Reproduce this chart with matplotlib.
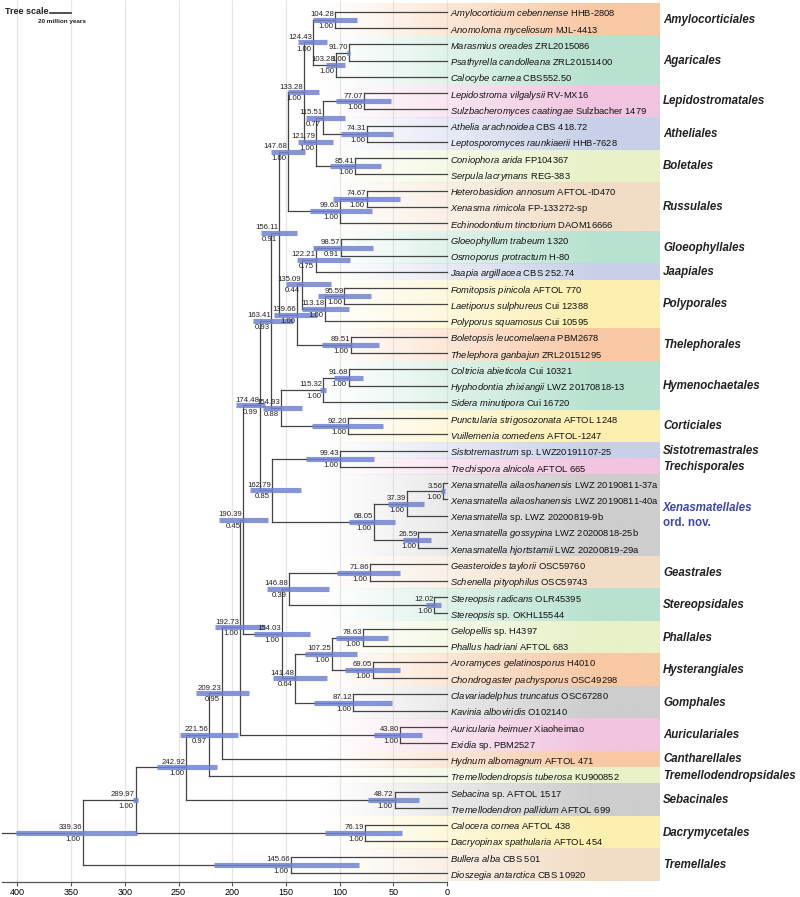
import numpy as np
import matplotlib
matplotlib.use("Agg")
import matplotlib.pyplot as plt
from matplotlib.colors import to_rgb

plt.rcParams.update({
    "font.family": "sans-serif",
    "font.sans-serif": ["Liberation Sans", "DejaVu Sans"],
    "mathtext.fontset": "custom",
    "mathtext.rm": "Liberation Sans",
    "mathtext.it": "Liberation Sans:italic",
    "mathtext.bf": "Liberation Sans:bold",
})

W, H, DPI = 800, 897, 100

# ---- tips (top to bottom) ----
tip_names = [
    "Amylocorticium cebennense", "Anomoloma myceliosum", "Marasmius oreades",
    "Psathyrella candolleana", "Calocybe carnea", "Lepidostroma vilgalysii",
    "Sulzbacheromyces caatingae", "Athelia arachnoidea", "Leptosporomyces raunkiaerii",
    "Coniophora arida", "Serpula lacrymans", "Heterobasidion annosum",
    "Xenasma rimicola", "Echinodontium tinctorium", "Gloeophyllum trabeum",
    "Osmoporus protractum", "Jaapia argillacea", "Fomitopsis pinicola",
    "Laetiporus sulphureus", "Polyporus squamosus", "Boletopsis leucomelaena",
    "Thelephora ganbajun", "Coltricia abieticola", "Hyphodontia zhixiangii",
    "Sidera minutipora", "Punctularia strigosozonata", "Vuillemenia comedens",
    "Sistotremastrum", "Trechispora alnicola", "Xenasmatella ailaoshanensis",
    "Xenasmatella ailaoshanensis", "Xenasmatella", "Xenasmatella gossypina",
    "Xenasmatella hjortstamii", "Geasteroides taylorii", "Schenella pityophilus",
    "Stereopsis radicans", "Stereopsis", "Gelopellis", "Phallus hadriani",
    "Aroramyces gelatinosporus", "Chondrogaster pachysporus", "Clavariadelphus truncatus",
    "Kavinia alboviridis", "Auricularia heimuer", "Exidia", "Hydnum albomagnum",
    "Tremellodendropsis tuberosa", "Sebacina", "Tremellodendron pallidum",
    "Calocera cornea", "Dacryopinax spathularia", "Bullera alba", "Dioszegia antarctica",
]
tip_strains = [
    "HHB-2808", "MJL-4413", "ZRL2015086", "ZRL20151400", "CBS552.50", "RV-MX16",
    "Sulzbacher 1479", "CBS 418.72", "HHB-7628", "FP104367", "REG-383", "AFTOL-ID470",
    "FP-133272-sp", "DAOM16666", "1320", "H-80", "CBS 252.74", "AFTOL 770",
    "Cui 12388", "Cui 10595", "PBM2678", "ZRL20151295", "Cui 10321", "LWZ 20170818-13",
    "Cui 16720", "AFTOL 1248", "AFTOL-1247", "sp. LWZ20191107-25", "AFTOL 665",
    "LWZ 20190811-37a", "LWZ 20190811-40a", "sp. LWZ 20200819-9b", "LWZ 20200818-25b",
    "LWZ 20200819-29a", "OSC59760", "OSC59743", "OLR45395", "sp. OKHL15544",
    "sp. H4397", "AFTOL 683", "H4010", "OSC49298", "OSC67280", "O102140",
    "Xiaoheimao", "sp. PBM2527", "AFTOL 471", "KU900852", "sp. AFTOL 1517",
    "AFTOL 699", "AFTOL 438", "AFTOL 454", "CBS 501", "CBS 10920",
]

# ---- internal nodes: age (Ma), posterior support, 95% HPD, children ----
# children: int = tip index, str = age label of another node
node_ages = [339.36, 289.97, 242.92, 221.56, 209.23, 192.73, 190.39, 174.48, 163.41,
             156.11, 147.68, 133.28, 124.43, 104.28, 103.28, 91.70, 121.79, 115.51,
             77.07, 74.31, 85.41, 99.63, 74.67, 139.66, 135.09, 122.21, 98.57, 113.18,
             95.59, 89.51, 154.93, 115.32, 91.68, 92.20, 162.79, 99.43, 68.05, 37.39,
             3.56, 26.59, 154.03, 146.88, 71.86, 12.02, 141.48, 107.25, 78.63, 69.05,
             87.12, 43.80, 48.72, 76.19, 145.66]
node_support = [1.00, 1.00, 1.00, 0.97, 0.95, 1.00, 0.45, 0.99, 0.93,
                0.91, 1.00, 1.00, 1.00, 1.00, 1.00, 1.00, 1.00, 0.77,
                1.00, 1.00, 1.00, 1.00, 1.00, 1.00, 0.44, 0.75, 0.91, 1.00,
                1.00, 1.00, 0.88, 1.00, 1.00, 1.00, 0.85, 1.00, 1.00, 1.00,
                1.00, 1.00, 1.00, 0.39, 1.00, 1.00, 0.64, 1.00, 1.00, 1.00,
                1.00, 1.00, 1.00, 1.00, 1.00]
hpd_old = [401, 292, 270, 249, 234, 216, 212, 196, 181,
           173, 164, 148, 139, 125, 113, 93, 139, 131,
           103, 99, 109, 128, 106, 161, 150, 140, 125, 135,
           120, 116, 171, 118, 105, 126, 183, 131, 91, 55,
           6, 41, 180, 168, 102, 20, 162, 132, 103, 95,
           124, 68, 74, 114, 217]
hpd_young = [289, 288, 214, 195, 184, 169, 167, 169, 143,
             140, 132, 119, 112, 84, 95, 90, 106, 95,
             52, 50, 61, 70, 44, 121, 108, 90, 69, 91,
             71, 63, 135, 113, 78, 60, 136, 68, 48, 21,
             2, 15, 128, 110, 44, 6, 112, 84, 55, 44,
             51, 23, 26, 42, 82]
node_children = [
    ("289.97", "145.66"), ("242.92", "76.19"), ("221.56", "48.72"), ("209.23", 47),
    ("192.73", 46), ("190.39", "43.80"), ("174.48", "154.03"), ("163.41", "162.79"),
    ("156.11", "154.93"), ("147.68", "139.66"), ("133.28", "99.63"), ("124.43", "121.79"),
    ("104.28", "103.28"), (0, 1), ("91.70", 4), (2, 3), ("115.51", "85.41"),
    ("77.07", "74.31"), (5, 6), (7, 8), (9, 10), ("74.67", 13), (11, 12),
    ("135.09", "89.51"), ("122.21", "113.18"), ("98.57", 16), (14, 15), ("95.59", 19),
    (17, 18), (20, 21), ("115.32", "92.20"), ("91.68", 24), (22, 23), (25, 26),
    ("99.43", "68.05"), (27, 28), ("37.39", "26.59"), ("3.56", 31), (29, 30), (32, 33),
    ("146.88", "141.48"), ("71.86", "12.02"), (34, 35), (36, 37), ("107.25", "87.12"),
    ("78.63", "69.05"), (38, 39), (40, 41), (42, 43), (44, 45), (48, 49), (50, 51),
    (52, 53),
]

# ---- orders (clade bands) ----
order_names = ["Amylocorticiales", "Agaricales", "Lepidostromatales", "Atheliales",
               "Boletales", "Russulales", "Gloeophyllales", "Jaapiales", "Polyporales",
               "Thelephorales", "Hymenochaetales", "Corticiales", "Sistotremastrales",
               "Trechisporales", "Xenasmatellales", "Geastrales", "Stereopsidales",
               "Phallales", "Hysterangiales", "Gomphales", "Auriculariales",
               "Cantharellales", "Tremellodendropsidales", "Sebacinales",
               "Dacrymycetales", "Tremellales"]
order_first = [0, 2, 5, 7, 9, 11, 14, 16, 17, 20, 22, 25, 27, 28, 29, 34, 36, 38, 40,
               42, 44, 46, 47, 48, 50, 52]
order_last = [1, 4, 6, 8, 10, 13, 15, 16, 19, 21, 24, 26, 27, 28, 33, 35, 37, 39, 41,
              43, 45, 46, 47, 49, 51, 53]
order_colors = ["#f8c8a4", "#b8e2cf", "#f1c4df", "#c8d0e8", "#e8f1c8", "#f2dcc6",
                "#b8e2cf", "#c8d0e8", "#fcefae", "#f8c8a4", "#b8e2cf", "#fcefae",
                "#c8d0e8", "#f1c4df", "#cdcdcd", "#f2dcc6", "#b8e2cf", "#e8f1c8",
                "#f8c8a4", "#cdcdcd", "#f1c4df", "#f8c8a4", "#e8f1c8", "#cdcdcd",
                "#fcefae", "#f2dcc6"]

ticks = [400, 350, 300, 250, 200, 150, 100, 50, 0]

# ---- layout helpers (pixel geometry of the reference) ----
px_per_ma = 1.074
x0_px = 447.0            # pixel of age 0
def age_at(px):
    return (x0_px - px) / px_per_ma

row0_px, row_step = 12.0, 16.25
axes_bottom_px = 882.0

key = {f"{a:.2f}": i for i, a in enumerate(node_ages)}
ypos = {}


def node_y(c):
    if isinstance(c, int):
        return float(c)
    i = key[c]
    if i in ypos:
        return ypos[i]
    a, b = node_children[i]
    ypos[i] = (node_y(a) + node_y(b)) / 2
    return ypos[i]


def node_age(c):
    return 0.0 if isinstance(c, int) else node_ages[key[c]]


fig = plt.figure(figsize=(W / DPI, H / DPI), dpi=DPI)
ax = fig.add_axes([0, 1 - axes_bottom_px / H, 1, axes_bottom_px / H])
xlim = (age_at(0), age_at(W))
ylim = ((axes_bottom_px - row0_px) / row_step, -row0_px / row_step)

# clade bands with left-to-right fade
band_l, band_r = age_at(320), age_at(660)
ramp = np.clip(np.linspace(0, 1.25, 256), 0, 1) ** 1.1
for name, f, l, col in zip(order_names, order_first, order_last, order_colors):
    rgba = np.zeros((1, 256, 4))
    rgba[..., :3] = to_rgb(col)
    rgba[..., 3] = ramp
    ax.imshow(rgba, extent=[band_l, band_r, l + 0.5, f - 0.5], aspect="auto",
              interpolation="bilinear", zorder=0.5)

# grid
ax.vlines(ticks, ylim[1], ylim[0], color="#e6e6e6", lw=0.9, zorder=0.2)

line_kw = dict(color="#444444", lw=0.9, zorder=2, solid_capstyle="projecting")
# branches
for i, (age, ch) in enumerate(zip(node_ages, node_children)):
    ys = [node_y(c) for c in ch]
    ax.plot([age, age], [min(ys), max(ys)], **line_kw)
    for c, y in zip(ch, ys):
        ax.plot([age, node_age(c)], [y, y], **line_kw)
root_y = node_y("339.36")
ax.plot([age_at(2), node_ages[0]], [root_y, root_y], **line_kw)

# HPD bars and node labels
for i, age in enumerate(node_ages):
    y = node_y(f"{age:.2f}")
    ax.plot([hpd_old[i], hpd_young[i]], [y, y], color="#7183d2", lw=3.7, alpha=0.85,
            solid_capstyle="butt", zorder=3)
    ax.annotate(f"{age:.2f}", (age, y), xytext=(-0.5, 1.2), textcoords="offset points",
                ha="right", va="bottom", fontsize=5.6, color="#222222", zorder=4)
    ax.annotate(f"{node_support[i]:.2f}", (age, y), xytext=(-1.5, -2.2),
                textcoords="offset points", ha="right", va="top", fontsize=5.6,
                color="#222222", zorder=4)

# tip labels: italic binomial + upright strain, one text each
tip_x = age_at(450)
for i, (nm, st) in enumerate(zip(tip_names, tip_strains)):
    label = r"$\mathit{" + nm.replace(" ", r"\ ") + "}$ " + st
    ax.text(tip_x, i, label, fontsize=6.75, ha="left", va="center_baseline",
            color="#111111", zorder=4)

# order labels
lab_x = age_at(663)
for name, f, l in zip(order_names, order_first, order_last):
    yc = (f + l) / 2
    if name == "Xenasmatellales":
        ax.text(lab_x, yc - 0.45, name, fontsize=8.3, fontweight="bold", style="italic",
                color="#3d47ad", ha="left", va="center", zorder=4)
        ax.text(lab_x, yc + 0.45, "ord. nov.", fontsize=8.3, fontweight="bold",
                color="#3d47ad", ha="left", va="center", zorder=4)
    else:
        ax.text(lab_x, yc, name, fontsize=8.3, fontweight="bold", style="italic",
                color="#222222", ha="left", va="center", zorder=4)

# axis
ax.set_xlim(*xlim)
ax.set_ylim(*ylim)
for s in ["top", "left", "right"]:
    ax.spines[s].set_visible(False)
ax.spines["bottom"].set_bounds(0, age_at(2))
ax.spines["bottom"].set_color("#555555")
ax.spines["bottom"].set_linewidth(0.9)
ax.set_yticks([])
ax.set_xticks(ticks)
ax.tick_params(axis="x", length=3, width=0.8, color="#555555", labelsize=6.5, pad=1.5)
ax.patch.set_alpha(0)

# tree scale
ax.text(age_at(5), 0.0, "Tree scale", fontsize=6.5, fontweight="bold", ha="left",
        va="center", color="#222222")
ax.plot([age_at(50), age_at(50) - 20], [0.06, 0.06], color="#333333", lw=1.2)
ax.text(age_at(62), 0.6, "20 million years", fontsize=4.6, fontweight="bold",
        ha="center", va="center", color="#222222")

fig.savefig("out.png", dpi=DPI)
